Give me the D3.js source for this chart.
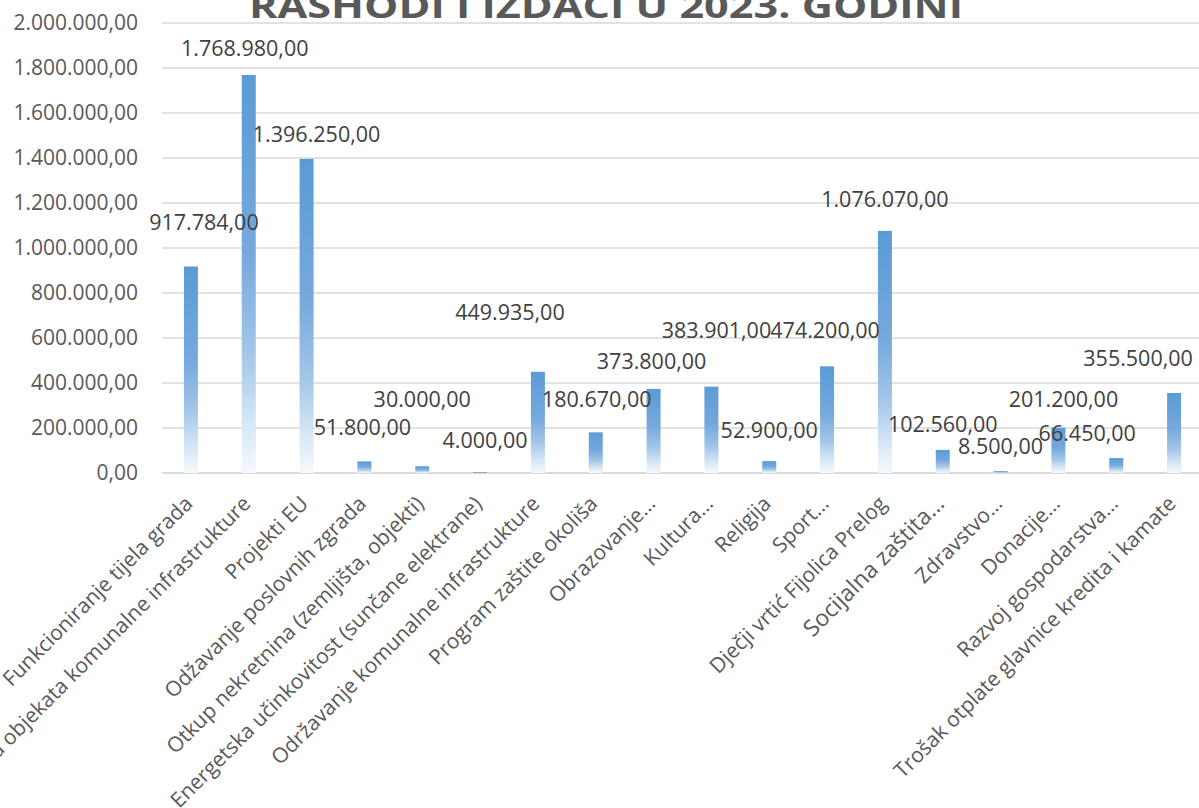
<!DOCTYPE html>
<html>
<head>
<meta charset="utf-8">
<script src="https://cdn.jsdelivr.net/npm/d3@7"></script>
<style>
  body { margin: 0; background: #fff; }
  svg { display: block; font-family: "Open Sans", sans-serif; }
</style>
</head>
<body>
<svg id="chart" width="1199" height="808"></svg>
<script>
// Chart data
const title = "RASHODI I IZDACI U 2023. GODINI";

const categories = [
  "Funkcioniranje tijela grada",
  "Gradnja objekata komunalne infrastrukture",
  "Projekti EU",
  "Odžavanje poslovnih zgrada",
  "Otkup nekretnina (zemljišta, objekti)",
  "Energetska učinkovitost (sunčane elektrane)",
  "Održavanje komunalne infrastrukture",
  "Program zaštite okoliša",
  "Obrazovanje…",
  "Kultura…",
  "Religija",
  "Sport…",
  "Dječji vrtić Fijolica Prelog",
  "Socijalna zaštita…",
  "Zdravstvo…",
  "Donacije…",
  "Razvoj gospodarstva…",
  "Trošak otplate glavnice kredita i kamate",
];

const values = [
  917784, 1768980, 1396250, 51800, 30000, 4000, 449935, 180670, 373800,
  383901, 52900, 474200, 1076070, 102560, 8500, 201200, 66450, 355500,
];

const yTicks = [0, 200000, 400000, 600000, 800000, 1000000, 1200000, 1400000, 1600000, 1800000, 2000000];

// Manual label nudges (dx, dy) as they were dragged in the original
const labelNudge = [
  [13, -14], [-4, 3], [10, 5], [-2, -4], [0, -37], [5, -2], [-28, -30], [1, -3], [-2, 2],
  [5, -27], [0, -1], [-2, -6], [0, -2], [0, 4], [0, 5], [5, 1], [-29, 5], [-36, -5],
];

// ─────────────────────────────────────────────
// Setup
// ─────────────────────────────────────────────
const width = 1199;
const height = 808;
const margin = { left: 162, right: -4, top: 23, bottom: 335 };

const hr = d3.formatLocale({ decimal: ",", thousands: ".", grouping: [3], currency: ["", ""] });
const fmt = hr.format(",.2f");

const svg = d3.select("#chart");

const x = d3.scaleBand()
  .domain(categories)
  .range([margin.left, width - margin.right])
  .paddingInner(0.758)
  .paddingOuter(0.379);

const y = d3.scaleLinear()
  .domain([0, 2000000])
  .range([height - margin.bottom, margin.top]);

// Gradient for the bars
const grad = svg.append("defs").append("linearGradient")
  .attr("id", "barGrad")
  .attr("x1", 0).attr("y1", 0).attr("x2", 0).attr("y2", 1);
[
  [0, "#5b9bd5"],
  [0.45, "#76a9dd"],
  [0.7, "#a3c6e8"],
  [0.87, "#d5e6f5"],
  [1, "#f6f9fd"],
].forEach(([o, c]) => grad.append("stop").attr("offset", o).attr("stop-color", c));

// Gridlines
svg.append("g")
  .selectAll("line")
  .data(yTicks)
  .join("line")
  .attr("x1", margin.left)
  .attr("x2", width)
  .attr("y1", (d) => y(d))
  .attr("y2", (d) => y(d))
  .attr("stroke", (d) => (d === 0 ? "#cfcfcf" : "#d9d9d9"))
  .attr("stroke-width", 1.5);

// Y axis labels
const yAxis = svg.append("g")
  .attr("transform", `translate(${margin.left},0)`)
  .call(d3.axisLeft(y).tickValues(yTicks).tickSize(0).tickPadding(24).tickFormat(fmt));
yAxis.select(".domain").remove();
yAxis.selectAll("text")
  .attr("fill", "#595959")
  .style("font-size", "21px")
  .style("font-family", "'Open Sans', sans-serif");

// Bars
svg.append("g")
  .selectAll("rect")
  .data(values)
  .join("rect")
  .attr("x", (d, i) => x(categories[i]))
  .attr("y", (d) => y(d))
  .attr("width", x.bandwidth())
  .attr("height", (d) => y(0) - y(d))
  .attr("fill", "url(#barGrad)");

// Data labels
svg.append("g")
  .selectAll("text")
  .data(values)
  .join("text")
  .attr("x", (d, i) => x(categories[i]) + x.bandwidth() / 2 + labelNudge[i][0])
  .attr("y", (d, i) => y(d) - 22 + labelNudge[i][1])
  .attr("text-anchor", "middle")
  .attr("fill", "#404040")
  .style("font-size", "21.5px")
  .text((d) => fmt(d));

// Category labels (rotated)
svg.append("g")
  .selectAll("text")
  .data(categories)
  .join("text")
  .attr("transform", (d) => `translate(${x(d) + x.bandwidth() / 2 + 3},${y(0) + 32}) rotate(-45)`)
  .attr("text-anchor", "end")
  .attr("fill", "#595959")
  .style("font-size", (d) => (d === "Socijalna zaštita…" ? "23px" : "21px"))
  .text((d) => d);

// Title (clipped at the top like the original)
svg.append("text")
  .attr("x", 606)
  .attr("y", 18)
  .attr("text-anchor", "middle")
  .attr("fill", "#595959")
  .attr("textLength", 714)
  .attr("lengthAdjust", "spacingAndGlyphs")
  .style("font-size", "34px")
  .style("font-weight", "bold")
  .text(title);
</script>
</body>
</html>
